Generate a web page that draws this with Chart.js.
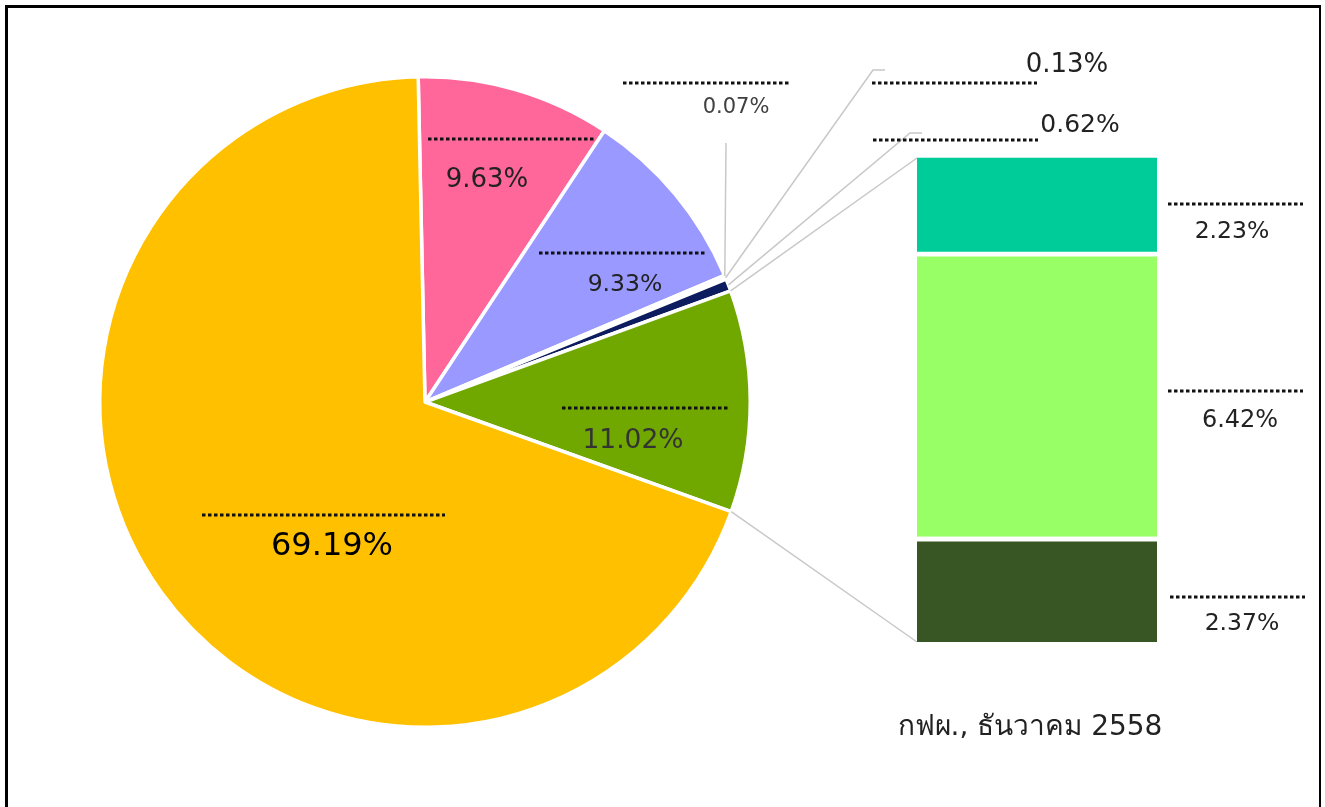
<!DOCTYPE html>
<html>
<head>
<meta charset="utf-8">
<script src="https://cdn.jsdelivr.net/npm/chart.js@4/dist/chart.umd.min.js"></script>
<style>
  html, body { margin: 0; padding: 0; background: #fff; overflow: hidden; }
  #frame {
    position: absolute; left: 5px; top: 5px; width: 1316px; height: 820px;
    border-top: 3px solid #000; border-left: 3px solid #000; border-right: 2px solid #000;
    box-sizing: border-box;
  }
  #pie { position: absolute; left: 0; top: 0; }
  #bar { position: absolute; left: 917px; top: 153px; }
</style>
</head>
<body>
<div id="frame"></div>
<canvas id="pie" width="1325" height="807"></canvas>
<canvas id="bar" width="240" height="489"></canvas>
<script>
"use strict";

// Pie slices, clockwise from 12 o'clock
const pieValues = [9.63, 9.33, 0.07, 0.13, 0.62, 11.02, 69.19];
const pieColors = ["#FF6699", "#9999FF", "#0C1C5E", "#0C1C5E", "#0C1C5E", "#70A800", "#FFC000"];

// Breakdown bar of the green slice, bottom to top
const barValues = [2.37, 6.42, 2.23];
const barColors = ["#375623", "#99FF66", "#00CC99"];

const sourceText = "กฟผ., ธันวาคม 2558";

const FONT = "'DejaVu Sans', Verdana, sans-serif";

// Label placement (text baseline centre + dotted name line x0, x1, y)
const pieLabelLayout = [
  { x: 487, y: 187, size: 26, color: "#222", dots: [428, 595, 139] },
  { x: 625, y: 291, size: 23.5, color: "#222", dots: [539, 706, 253] },
  { x: 736, y: 113, size: 21, color: "#404040", dots: [623, 790, 83], leader: [[726, 143]] },
  { x: 1067, y: 72, size: 26, color: "#222", dots: [872, 1037, 83], leader: [[873, 70], [885, 70]] },
  { x: 1080, y: 132, size: 25, color: "#222", dots: [873, 1038, 140], leader: [[910, 133], [922, 133]] },
  { x: 633, y: 448, size: 26.5, color: "#333", dots: [562, 728, 408] },
  { x: 332, y: 555, size: 32, color: "#000", dots: [202, 445, 515] },
];
const barLabelLayout = [
  { x: 1242, y: 630, size: 23.5, color: "#222", dots: [1170, 1305, 597] },
  { x: 1240, y: 427, size: 24, color: "#222", dots: [1168, 1303, 391] },
  { x: 1232, y: 238, size: 23.5, color: "#222", dots: [1168, 1303, 204] },
];

function fmtPct(v) {
  return v.toFixed(2) + "%";
}

// dotted placeholder line above each value
function drawDots(ctx, d) {
  ctx.save();
  ctx.strokeStyle = "#111";
  ctx.lineWidth = 3;
  ctx.setLineDash([3.5, 2.5]);
  ctx.beginPath();
  ctx.moveTo(d[0], d[2]);
  ctx.lineTo(d[1], d[2]);
  ctx.stroke();
  ctx.restore();
}

function drawLabel(ctx, lay, text) {
  drawDots(ctx, lay.dots);
  ctx.save();
  ctx.fillStyle = lay.color;
  ctx.font = `${lay.size}px ${FONT}`;
  ctx.textAlign = "center";
  ctx.textBaseline = "alphabetic";
  ctx.fillText(text, lay.x, lay.y);
  ctx.restore();
}

// Stacked bar (pie-of-bar breakdown)
const barChart = new Chart(document.getElementById("bar"), {
  type: "bar",
  data: {
    labels: [""],
    datasets: barValues.map((v, i) => ({
      data: [v],
      backgroundColor: barColors[i],
      borderColor: "#ffffff",
      borderWidth: { top: 5, right: 0, bottom: 0, left: 0 },
      borderSkipped: false,
      barPercentage: 1,
      categoryPercentage: 1,
    })),
  },
  options: {
    responsive: false,
    animation: false,
    events: [],
    layout: { padding: 0 },
    plugins: { legend: { display: false }, tooltip: { enabled: false } },
    scales: {
      x: { display: false, stacked: true },
      y: {
        display: false,
        stacked: true,
        min: 0,
        max: barValues.reduce((a, b) => a + b, 0),
      },
    },
  },
});

const overlayPlugin = {
  id: "overlay",
  afterDraw(chart) {
    const ctx = chart.ctx;
    const arcs = chart.getDatasetMeta(0).data;
    const barCanvas = document.getElementById("bar");
    const offX = barCanvas.offsetLeft;
    const offY = barCanvas.offsetTop;
    const bars = barChart.getDatasetMeta(0).data;
    const topBar = barChart.getDatasetMeta(barValues.length - 1).data[0];

    ctx.save();
    ctx.strokeStyle = "#C8C8C8";
    ctx.lineWidth = 1.5;

    // leader lines from the thin slices
    pieLabelLayout.forEach((lay, i) => {
      if (!lay.leader) return;
      const a = arcs[i];
      const mid = (a.startAngle + a.endAngle) / 2;
      const r = a.outerRadius;
      ctx.beginPath();
      ctx.moveTo(a.x + r * Math.cos(mid), a.y + r * Math.sin(mid));
      lay.leader.forEach((p) => ctx.lineTo(p[0], p[1]));
      ctx.stroke();
    });

    // connectors from green slice to bar
    const g = arcs[5];
    const leftX = offX + bars[0].x - bars[0].width / 2;
    ctx.beginPath();
    ctx.moveTo(g.x + g.outerRadius * Math.cos(g.startAngle), g.y + g.outerRadius * Math.sin(g.startAngle));
    ctx.lineTo(leftX, offY + topBar.y + 5);
    ctx.moveTo(g.x + g.outerRadius * Math.cos(g.endAngle), g.y + g.outerRadius * Math.sin(g.endAngle));
    ctx.lineTo(leftX, offY + bars[0].base);
    ctx.stroke();
    ctx.restore();

    pieLabelLayout.forEach((lay, i) => drawLabel(ctx, lay, fmtPct(pieValues[i])));
    barLabelLayout.forEach((lay, i) => drawLabel(ctx, lay, fmtPct(barValues[i])));

    ctx.save();
    ctx.fillStyle = "#222";
    ctx.font = `28px ${FONT}`;
    ctx.textAlign = "center";
    ctx.fillText(sourceText, 1030, 735);
    ctx.restore();
  },
};

new Chart(document.getElementById("pie"), {
  type: "pie",
  data: {
    labels: pieValues.map(fmtPct),
    datasets: [{
      data: pieValues,
      backgroundColor: pieColors,
      borderColor: "#ffffff",
      borderWidth: 3.5,
    }],
  },
  options: {
    responsive: false,
    animation: false,
    events: [],
    rotation: -1.2,
    layout: { padding: { left: 98, top: 75, right: 573, bottom: 78 } },
    plugins: { legend: { display: false }, tooltip: { enabled: false } },
  },
  plugins: [overlayPlugin],
});
</script>
</body>
</html>
